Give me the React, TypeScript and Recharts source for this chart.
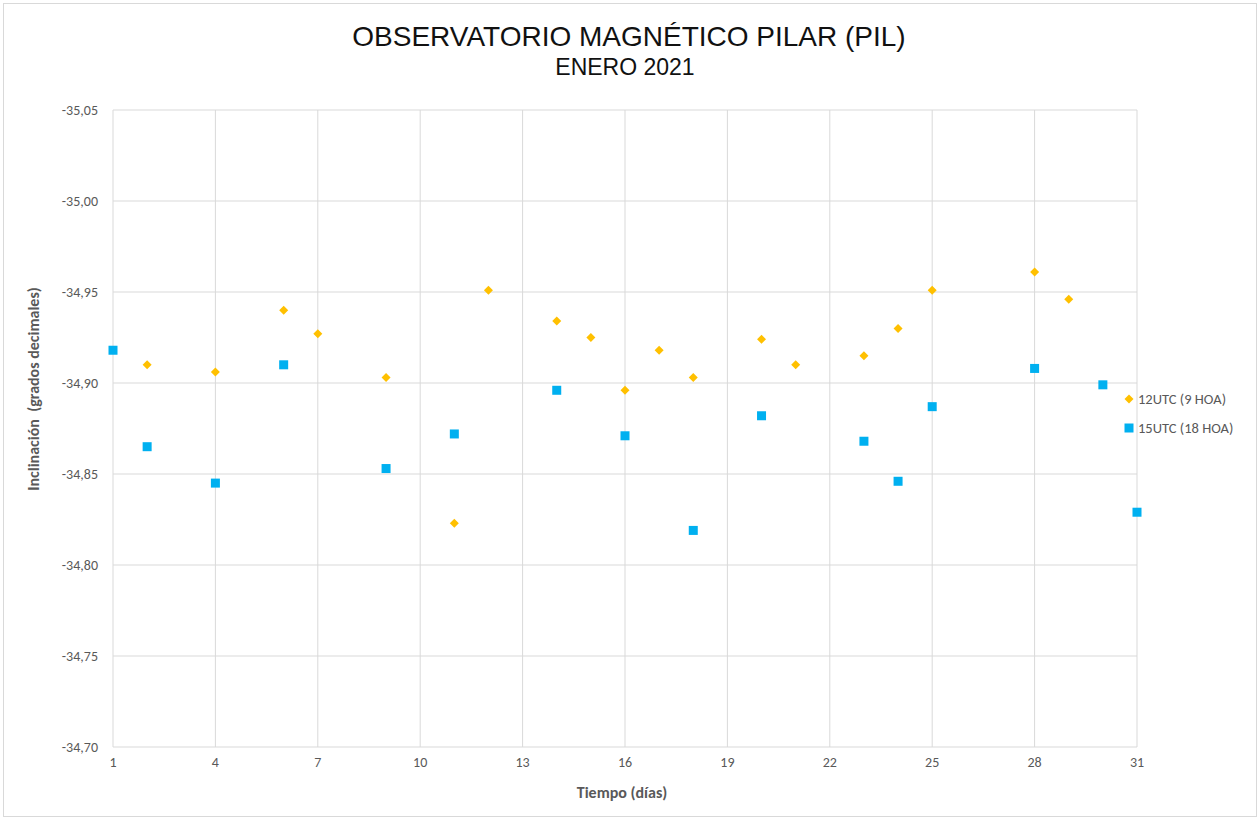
import React from 'react';
import { ScatterChart, Scatter, XAxis, YAxis, CartesianGrid, Legend } from 'recharts';

const days12 = [2, 4, 6, 7, 9, 11, 12, 14, 15, 16, 17, 18, 20, 21, 23, 24, 25, 28, 29];
const vals12 = [-34.910, -34.906, -34.940, -34.927, -34.903, -34.823, -34.951, -34.934, -34.925, -34.896, -34.918, -34.903, -34.924, -34.910, -34.915, -34.930, -34.951, -34.961, -34.946];

const days15 = [1, 2, 4, 6, 9, 11, 14, 16, 18, 20, 23, 24, 25, 28, 30, 31];
const vals15 = [-34.918, -34.865, -34.845, -34.910, -34.853, -34.872, -34.896, -34.871, -34.819, -34.882, -34.868, -34.846, -34.887, -34.908, -34.899, -34.829];

const xTicks = [1, 4, 7, 10, 13, 16, 19, 22, 25, 28, 31];
const yTicks = [-35.05, -35.0, -34.95, -34.9, -34.85, -34.8, -34.75, -34.7];

const name12 = '12UTC (9 HOA)';
const name15 = '15UTC (18 HOA)';

const YELLOW = '#FFC000';
const BLUE = '#00B0F0';
const GRID = '#d9d9d9';
const TXT = '#595959';
const FONT = 'Carlito, Lato, "Open Sans", sans-serif';

const data12 = days12.map((d, i) => ({ x: d, y: vals12[i] }));
const data15 = days15.map((d, i) => ({ x: d, y: vals15[i] }));

const Diamond = (props: any) => {
  const { cx, cy } = props;
  const r = 4.5;
  return <polygon points={`${cx},${cy - r} ${cx + r},${cy} ${cx},${cy + r} ${cx - r},${cy}`} fill={YELLOW} />;
};

const Square = (props: any) => {
  const { cx, cy } = props;
  const s = 9;
  return <rect x={cx - s / 2} y={cy - s / 2} width={s} height={s} fill={BLUE} />;
};

const fmt = (v: number) => v.toFixed(2).replace('.', ',');

const renderLegend = (props: any) => {
  const { payload } = props;
  return (
    <div style={{ fontFamily: FONT, fontSize: 14.5, color: TXT }}>
      {(payload || []).map((p: any, i: number) => (
        <div key={i} style={{ display: 'flex', alignItems: 'center', height: 29 }}>
          <svg width={12} height={12} style={{ marginRight: 3 }}>
            {p.value === name12 ? (
              <polygon points="6,1.5 10.5,6 6,10.5 1.5,6" fill={YELLOW} />
            ) : (
              <rect x={1.5} y={1.5} width={9} height={9} fill={BLUE} />
            )}
          </svg>
          <span>{p.value}</span>
        </div>
      ))}
    </div>
  );
};

export default function App() {
  return (
    <div style={{ position: 'absolute', left: 0, top: 0, width: 1258, height: 820, background: '#fff' }}>
      <div style={{ position: 'absolute', left: 3, top: 3, width: 1252, height: 812, border: '1px solid #d9d9d9' }} />
      <ScatterChart width={1258} height={820} margin={{ top: 110, right: 121, bottom: 43, left: 53 }}>
        <CartesianGrid stroke={GRID} strokeWidth={1} />
        <XAxis
          type="number"
          dataKey="x"
          domain={[1, 31]}
          ticks={xTicks}
          interval={0}
          axisLine={false}
          tickLine={false}
          tickSize={0}
          tickMargin={10}
          height={30}
          tick={{ fill: TXT, fontSize: 14, fontFamily: FONT }}
        />
        <YAxis
          type="number"
          dataKey="y"
          domain={[-35.05, -34.7]}
          ticks={yTicks}
          interval={0}
          reversed
          axisLine={false}
          tickLine={false}
          tickSize={0}
          tickMargin={15}
          width={60}
          tickFormatter={fmt}
          tick={{ fill: TXT, fontSize: 14, fontFamily: FONT }}
        />
        <Legend
          layout="vertical"
          align="center"
          verticalAlign="middle"
          content={renderLegend}
          wrapperStyle={{ left: 1123, top: 384, width: 135 }}
        />
        <Scatter name={name12} data={data12} fill={YELLOW} shape={Diamond} isAnimationActive={false} />
        <Scatter name={name15} data={data15} fill={BLUE} shape={Square} isAnimationActive={false} />
      </ScatterChart>
      <div style={{ position: 'absolute', left: 0, width: 1258, top: 20, textAlign: 'center', fontFamily: '"Liberation Sans", Arial, sans-serif', fontSize: 28, color: '#111', lineHeight: '34px' }}>
        OBSERVATORIO MAGNÉTICO PILAR (PIL)
      </div>
      <div style={{ position: 'absolute', left: 0, width: 1250, top: 53, textAlign: 'center', fontFamily: '"Liberation Sans", Arial, sans-serif', fontSize: 23, color: '#111', lineHeight: '28px' }}>
        ENERO 2021
      </div>
      <div style={{ position: 'absolute', left: 0, width: 1244, top: 783, textAlign: 'center', fontFamily: FONT, fontSize: 16, fontWeight: 'bold', color: TXT, lineHeight: '20px' }}>
        Tiempo (días)
      </div>
      <div style={{ position: 'absolute', left: 34, top: 389, width: 0, height: 0 }}>
        <div style={{ position: 'absolute', left: -150, top: -10, width: 300, textAlign: 'center', transform: 'rotate(-90deg)', fontFamily: FONT, fontSize: 16, fontWeight: 'bold', color: TXT, lineHeight: '20px', whiteSpace: 'pre' }}>
          {'Inclinación  (grados decimales)'}
        </div>
      </div>
    </div>
  );
}
